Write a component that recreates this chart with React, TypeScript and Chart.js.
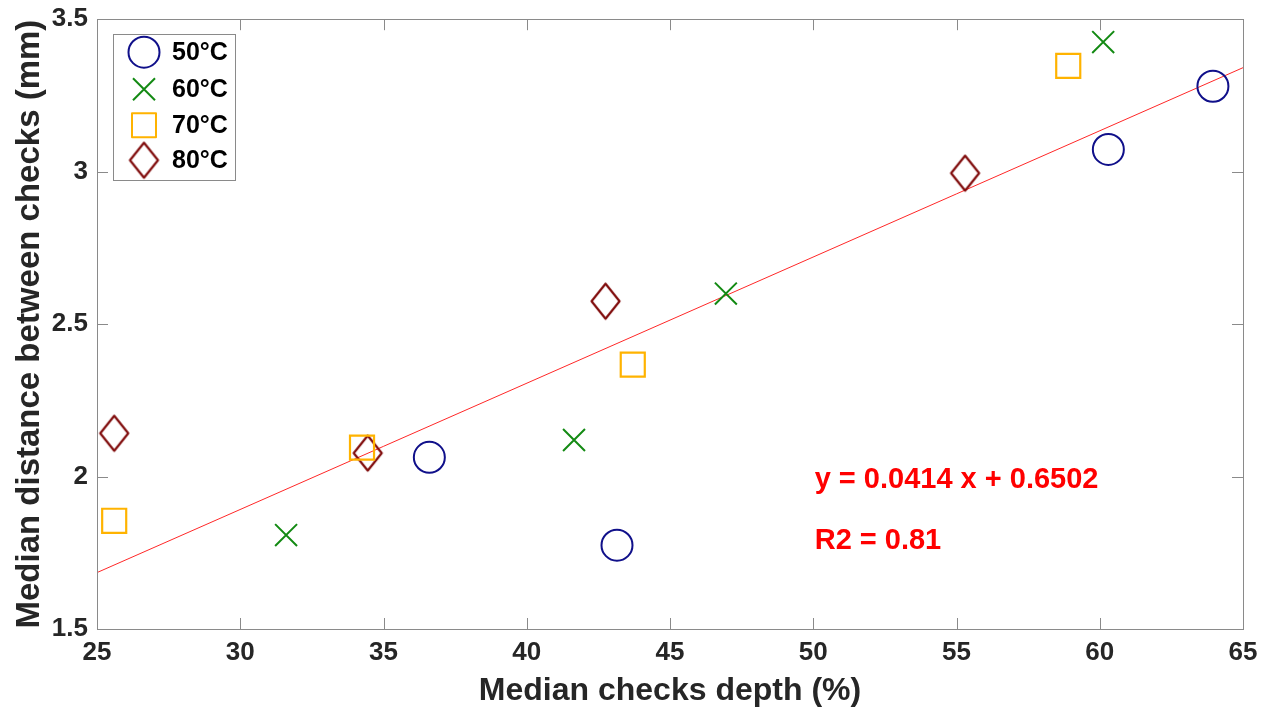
import React, { useEffect, useRef } from 'react';
import { Chart, registerables } from 'chart.js';

Chart.register(...registerables);

const FONT = "'Liberation Sans', Arial, Helvetica, sans-serif";

const xTicks = [25, 30, 35, 40, 45, 50, 55, 60, 65];
const yTicks = [1.5, 2, 2.5, 3, 3.5];
const xTitle = 'Median checks depth (%)';
const yTitle = 'Median distance between checks (mm)';

const seriesLabels = ['50°C', '60°C', '70°C', '80°C'];
const seriesColors = ['#10108a', '#138a13', '#ffb300', '#7f0a0a'];

const x50 = [36.6, 43.15, 60.3, 63.95];
const y50 = [2.063, 1.775, 3.073, 3.28];
const x60 = [31.6, 41.65, 46.95, 60.12];
const y60 = [1.808, 2.12, 2.6, 3.425];
const x70 = [25.6, 34.25, 43.7, 58.9];
const y70 = [1.855, 2.095, 2.367, 3.347];
const x80 = [25.6, 34.45, 42.75, 55.3];
const y80 = [2.142, 2.077, 2.575, 2.995];

const fitX = [25, 65];
const fitY = [1.685, 3.341];
const fitText = ['y = 0.0414 x + 0.6502', 'R2 = 0.81'];
const fitTextX = 50.05;
const fitTextY = [1.99, 1.79];

function pts(xs: number[], ys: number[]) {
  return xs.map((x, i) => ({ x, y: ys[i] }));
}

function makeDiamond(color: string): HTMLCanvasElement {
  const c = document.createElement('canvas');
  const w = 33, h = 40;
  c.width = w; c.height = h;
  const ctx = c.getContext('2d')!;
  ctx.strokeStyle = color;
  ctx.lineWidth = 2.2;
  ctx.lineJoin = 'round';
  ctx.beginPath();
  ctx.moveTo(w / 2, 2.5);
  ctx.lineTo(w - 2.5, h / 2);
  ctx.lineTo(w / 2, h - 2.5);
  ctx.lineTo(2.5, h / 2);
  ctx.closePath();
  ctx.stroke();
  return c;
}

export default function App() {
  const ref = useRef<HTMLCanvasElement | null>(null);

  useEffect(() => {
    document.body.style.margin = '0';
    const canvas = ref.current;
    if (!canvas) return;
    const diamond = makeDiamond(seriesColors[3]);

    const boxPlugin = {
      id: 'boxTicks',
      afterDatasetsDraw(chart: any) {
        const { ctx, chartArea: a, scales } = chart;
        ctx.save();
        ctx.strokeStyle = '#8a8a8a';
        ctx.lineWidth = 1;
        ctx.strokeRect(Math.round(a.left) + 0.5, Math.round(a.top) + 0.5, Math.round(a.right - a.left), Math.round(a.bottom - a.top));
        const tl = 11;
        ctx.beginPath();
        xTicks.forEach((v) => {
          const px = Math.round(scales.x.getPixelForValue(v)) + 0.5;
          ctx.moveTo(px, a.bottom); ctx.lineTo(px, a.bottom - tl);
          ctx.moveTo(px, a.top); ctx.lineTo(px, a.top + tl);
        });
        yTicks.forEach((v) => {
          const py = Math.round(scales.y.getPixelForValue(v)) + 0.5;
          ctx.moveTo(a.left, py); ctx.lineTo(a.left + tl, py);
          ctx.moveTo(a.right, py); ctx.lineTo(a.right - tl, py);
        });
        ctx.stroke();

        // fit annotation
        ctx.fillStyle = '#ff0000';
        ctx.font = `bold 29px ${FONT}`;
        ctx.textAlign = 'left';
        ctx.textBaseline = 'middle';
        fitText.forEach((t, i) => {
          ctx.fillText(t, scales.x.getPixelForValue(fitTextX), scales.y.getPixelForValue(fitTextY[i]));
        });

        // legend
        const bl = a.left + 16, bt = a.top + 15, bw = 122, bh = 146;
        ctx.fillStyle = '#ffffff';
        ctx.fillRect(bl, bt, bw, bh);
        ctx.strokeStyle = '#8a8a8a';
        ctx.lineWidth = 1;
        ctx.strokeRect(Math.round(bl) + 0.5, Math.round(bt) + 0.5, bw, bh);
        const rows = [18, 55, 91, 126];
        const mx = bl + 31;
        rows.forEach((dy, i) => {
          const cy = bt + dy;
          ctx.strokeStyle = seriesColors[i];
          ctx.lineWidth = 2;
          ctx.beginPath();
          if (i === 0) {
            ctx.arc(mx, cy, 15.5, 0, Math.PI * 2);
          } else if (i === 1) {
            ctx.moveTo(mx - 11, cy - 11); ctx.lineTo(mx + 11, cy + 11);
            ctx.moveTo(mx + 11, cy - 11); ctx.lineTo(mx - 11, cy + 11);
          } else if (i === 2) {
            ctx.lineJoin = 'round';
            ctx.rect(mx - 12, cy - 12, 24, 24);
          }
          ctx.stroke();
          if (i === 3) {
            ctx.drawImage(diamond, mx - diamond.width / 2, cy - diamond.height / 2);
          }
          ctx.fillStyle = '#000000';
          ctx.font = `bold 25px ${FONT}`;
          ctx.textAlign = 'left';
          ctx.textBaseline = 'middle';
          ctx.fillText(seriesLabels[i], bl + 59, cy + 1);
        });
        ctx.restore();
      },
    };

    const tickFont = { family: FONT, size: 26, weight: 'bold' as const };
    const xTitleFont = { family: FONT, size: 32, weight: 'bold' as const };
    const yTitleFont = { family: FONT, size: 33, weight: 'bold' as const };

    const chart = new Chart(canvas, {
      type: 'scatter',
      data: {
        datasets: [
          {
            type: 'line',
            label: 'fit',
            data: pts(fitX, fitY),
            borderColor: 'rgba(255,0,0,0.85)',
            borderWidth: 1,
            pointRadius: 0,
            showLine: true,
            fill: false,
            order: 5,
          } as any,
          {
            label: seriesLabels[0],
            data: pts(x50, y50),
            pointStyle: 'circle',
            pointRadius: 15.5,
            borderColor: seriesColors[0],
            backgroundColor: 'rgba(0,0,0,0)',
            borderWidth: 2,
            order: 1,
          },
          {
            label: seriesLabels[1],
            data: pts(x60, y60),
            pointStyle: 'crossRot',
            pointRadius: 15.5,
            borderColor: seriesColors[1],
            backgroundColor: 'rgba(0,0,0,0)',
            borderWidth: 2,
            order: 1,
          },
          {
            label: seriesLabels[2],
            data: pts(x70, y70),
            pointStyle: 'rect',
            pointRadius: 17,
            borderColor: seriesColors[2],
            backgroundColor: 'rgba(0,0,0,0)',
            borderWidth: 2.2,
            order: 1,
          },
          {
            label: seriesLabels[3],
            data: pts(x80, y80),
            pointStyle: diamond,
            pointRadius: 17,
            borderColor: seriesColors[3],
            backgroundColor: 'rgba(0,0,0,0)',
            borderWidth: 2,
            order: 1,
          },
        ],
      },
      options: {
        animation: false,
        responsive: true,
        maintainAspectRatio: false,
        layout: { padding: { left: 0, right: 31, top: 17, bottom: 0 } },
        plugins: {
          legend: { display: false },
          tooltip: { enabled: false },
        },
        scales: {
          x: {
            type: 'linear',
            min: 25,
            max: 65,
            afterBuildTicks: (s: any) => { s.ticks = xTicks.map((v) => ({ value: v })); },
            afterFit: (s: any) => { s.height = 94; s.paddingLeft = 0; s.paddingRight = 0; },
            grid: { display: false, drawTicks: false },
            border: { display: false },
            ticks: { color: '#262626', font: tickFont, padding: 8, maxRotation: 0, autoSkip: false },
            title: { display: true, text: xTitle, color: '#262626', font: xTitleFont, padding: { top: 0, bottom: 13 } },
          },
          y: {
            type: 'linear',
            min: 1.5,
            max: 3.5,
            afterBuildTicks: (s: any) => { s.ticks = yTicks.map((v) => ({ value: v })); },
            afterFit: (s: any) => { s.width = 97; s.paddingTop = 0; s.paddingBottom = 0; },
            grid: { display: false, drawTicks: false },
            border: { display: false },
            ticks: { color: '#262626', font: tickFont, padding: 9, autoSkip: false, callback: (v: any) => String(v) },
            title: { display: true, text: yTitle, color: '#262626', font: yTitleFont, padding: { top: 10, bottom: 0 } },
          },
        },
      },
      plugins: [boxPlugin],
    });

    return () => chart.destroy();
  }, []);

  return (
    <div style={{ width: '1274px', height: '723px', position: 'relative', background: '#ffffff' }}>
      <canvas ref={ref} />
    </div>
  );
}
